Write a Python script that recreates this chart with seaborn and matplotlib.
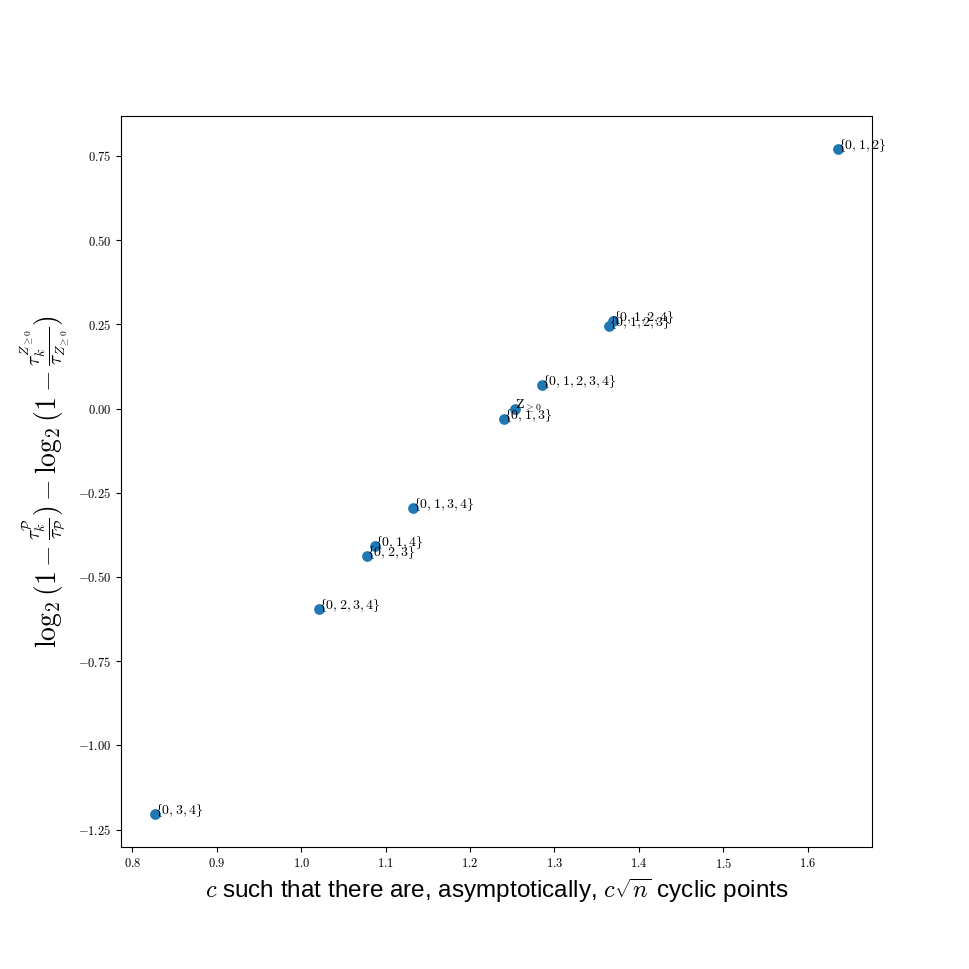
import matplotlib
matplotlib.use('Agg')
import matplotlib.pyplot as plt
import numpy as np
import pandas as pd
import seaborn as sns
from matplotlib.ticker import FuncFormatter

plt.rcParams['mathtext.fontset'] = 'cm'

# %% values
# braces drawn from cmsy10 ('f' and 'g' slots) so they stay text size, like latex
sets = ['0, 3, 4', '0, 2, 3, 4', '0, 2, 3', '0, 1, 4', '0, 1, 3, 4', '0, 1, 3', None,
        '0, 1, 2, 3, 4', '0, 1, 2, 3', '0, 1, 2, 4', '0, 1, 2']
cvals = [0.827, 1.0206, 1.0776, 1.087, 1.132, 1.2406, 1.2533, 1.2848, 1.365, 1.369, 1.636]
logdiff = [-1.203, -0.594, -0.437, -0.407, -0.294, -0.031, 0.0, 0.070, 0.245, 0.260, 0.769]

labels = []
for s in sets:
  if s is None:
    labels.append(r'$\mathrm{Z}_{\geq 0}$')
  else:
    labels.append(r'$\mathcal{f}' + s + r'\mathcal{g}$')

df = pd.DataFrame({'c': cvals, 'd': logdiff, 'label': labels})

# %% plot
fig, ax = plt.subplots(figsize=(9.69, 9.69), dpi=100)
fig.subplots_adjust(left=0.125, right=0.9, top=0.88, bottom=0.126)
sns.scatterplot(data=df, x='c', y='d', ax=ax, color='#1f77b4', s=60, linewidth=0)
for ind in range(len(df)):
  ax.annotate(df.loc[ind, 'label'], (df.loc[ind, 'c'], df.loc[ind, 'd']), fontsize=10)

ax.xaxis.set_major_formatter(FuncFormatter(lambda v, p: r'$%.1f$' % v))
ax.yaxis.set_major_formatter(FuncFormatter(lambda v, p: r'$%.2f$' % v))
ax.tick_params(labelsize=9)
ax.set_xlabel(r'$c$ such that there are, asymptotically, $c\sqrt{n}$ cyclic points',
              fontsize=17.5, family='Liberation Sans')
ax.set_ylabel(r'$\log_2(1-\frac{\tau_k^{\mathcal{P}}}{\tau_{\mathcal{P}}})'
              r' - \log_2(1-\frac{\tau_k^{Z_{\geq 0}}}{\tau_{Z_{\geq 0}}})$', fontsize=20)
fig.savefig('out.png', dpi=100)
